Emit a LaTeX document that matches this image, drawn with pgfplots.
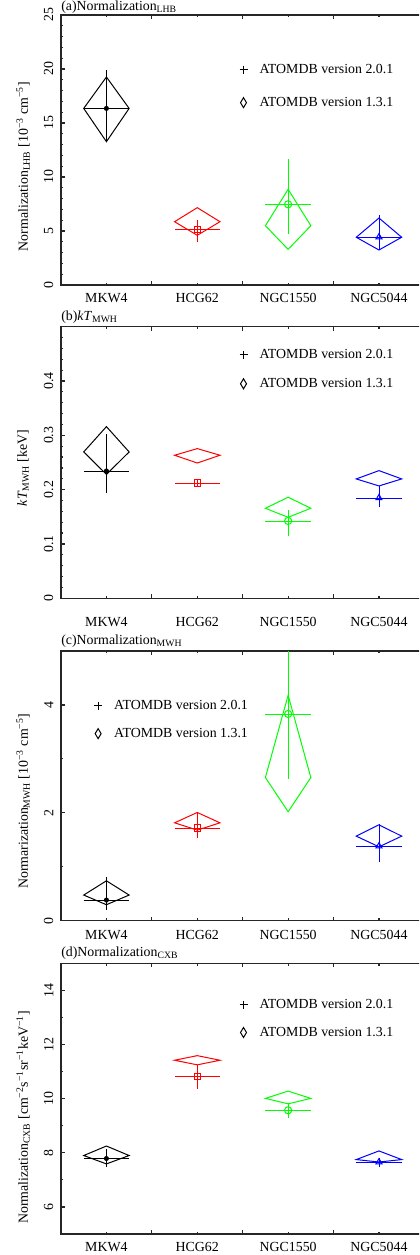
\documentclass[border=0pt]{standalone}
\usepackage{pgfplots}
\pgfplotsset{compat=1.18}
\usepackage{fontspec}
\setmainfont{Liberation Serif}

\newcommand\labfont{\fontsize{10.4}{12}\selectfont}

\pgfplotsset{
  panel/.style={
    scale only axis, width=272.55pt, anchor=north west,
    xmin=0.5, xmax=4.5,
    xtick={1.5,2.5,3.5}, xticklabels={},
    minor xtick={1,2,3,4},
    extra x ticks={1,2,3,4},
    extra x tick labels={MKW4,HCG62,NGC1550,NGC5044},
    extra x tick style={major tick length=0pt},
    xticklabel style={yshift=-2.4pt},
    yticklabel style={rotate=90, anchor=south, inner ysep=5.6pt},
    /pgf/number format/assume math mode=true,
    tick label style={font=\labfont},
    label style={font=\labfont},
    every axis title/.style={font=\labfont, at={(0,1)}, anchor=base west,
      yshift=5pt, inner sep=0pt},
    major tick length=3pt, minor tick length=1.75pt,
    axis line style={line width=0.9pt, black!85},
    every tick/.style={line width=0.9pt, black!85},
    every axis plot/.append style={line width=0.75pt},
    legend cell align=left,
    legend image code/.code={\draw[##1] plot coordinates {(0pt,0pt)};},
    legend style={draw=none, fill=none, inner sep=0pt, outer sep=0pt,
      column sep=9pt, nodes={inner sep=0pt}, font=\labfont,
      anchor=north west, xshift=-2.4pt, yshift=3.75pt},
  },
  v2/.style={error bars/.cd, x dir=both, x fixed=0.25,
    y dir=both, y explicit, error mark=none},
  v1/.style={no markers, line join=miter},
}

\newcommand\legendpair{%
  \addlegendimage{only marks, mark=+, mark size=3pt, black, line width=0.75pt}
  \addlegendentry{ATOMDB version 2.0.1}
  \addlegendimage{only marks, mark=diamond, mark size=3.75pt, black, line width=0.75pt, mark options={xscale=0.8}}
  \addlegendentry{ATOMDB version 1.3.1}}

\begin{document}
\begin{tikzpicture}
\useasboundingbox (0,0) rectangle (314.25pt,-941.25pt);
\clip (0,0) rectangle (314.25pt,-941.25pt);

% (a) LHB normalization
\begin{axis}[panel, at={(45.75pt,-11.25pt)}, height=202.5pt,
  ymin=0, ymax=25, ytick={0,5,...,25}, minor y tick num=4,
  title={(a)Normalization\textsubscript{LHB}},
  title style={yshift=-1.9pt},
  ylabel={Normalization\textsubscript{LHB} [10\textsuperscript{−3} cm\textsuperscript{−5}]},
  ylabel style={at={(axis description cs:-0.104,0.439)}, anchor=center},
  legend style={at={(axis cs:2.5,20)}, row sep=16.4pt}]
\legendpair
\addplot[black, mark=*, mark size=1.5pt, v2] coordinates {(1,16.35) += (0,3.55) -= (0,3.08)};
\addplot[black, v1] coordinates {(0.75,16.35) (1,19.26) (1.25,16.35) (1,13.27)} --cycle;
\addplot[red, mark=square, mark size=2.4pt, v2] coordinates {(2,5.15) += (0,0.87) -= (0,1.20)};
\addplot[red, v1] coordinates {(1.75,5.86) (2,7.16) (2.25,5.86) (2,4.6)} --cycle;
\addplot[green, mark=o, mark size=2.7pt, v2] coordinates {(3,7.47) += (0,4.16) -= (0,2.75)};
\addplot[green, v1] coordinates {(2.75,5.49) (3,8.86) (3.25,5.49) (3,3.30)} --cycle;
\addplot[blue, mark=triangle, mark size=2.6pt, v2] coordinates {(4,4.44) += (0,2.04) -= (0,1.20)};
\addplot[blue, v1] coordinates {(3.75,4.42) (4,6.20) (4.25,4.42) (4,3.24)} --cycle;
\end{axis}

% (b) MWH temperature
\begin{axis}[panel, at={(45.75pt,-245pt)}, height=203.7pt,
  ymin=0, ymax=0.5, ytick={0,0.1,0.2,0.3,0.4},
  minor ytick={0.02,0.04,...,0.49},
  extra x tick style={major tick length=0pt, xticklabel style={yshift=-8.5pt}},
  title={(b)\textit{kT}\textsubscript{MWH}},
  ylabel={\textit{kT}\textsubscript{MWH} [keV]},
  ylabel style={at={(axis description cs:-0.104,0.479)}, anchor=center},
  legend style={at={(axis cs:2.5,0.449)}, row sep=13.2pt}]
\legendpair
\addplot[black, mark=*, mark size=1.5pt, v2] coordinates {(1,0.2344) += (0,0.0676) -= (0,0.041)};
\addplot[black, v1] coordinates {(0.75,0.2694) (1,0.316) (1.25,0.2694) (1,0.228)} --cycle;
\addplot[red, mark=square, mark size=2.4pt, v2] coordinates {(2,0.2123) += (0,0.0074) -= (0,0.0073)};
\addplot[red, v1] coordinates {(1.75,0.2633) (2,0.2755) (2.25,0.2633) (2,0.249)} --cycle;
\addplot[green, mark=o, mark size=2.7pt, v2] coordinates {(3,0.1424) += (0,0.0203) -= (0,0.0271)};
\addplot[green, v1] coordinates {(2.75,0.1657) (3,0.186) (3.25,0.1657) (3,0.149)} --cycle;
\addplot[blue, mark=triangle, mark size=2.6pt, v2] coordinates {(4,0.1847) += (0,0.0221) -= (0,0.016)};
\addplot[blue, v1] coordinates {(3.75,0.2197) (4,0.235) (4.25,0.2197) (4,0.2068)} --cycle;
\end{axis}

% (c) MWH normalization
\begin{axis}[panel, at={(45.75pt,-488.25pt)}, height=202.3pt,
  ymin=0, ymax=5, ytick={0,2,4}, minor ytick={1,3,5},
  extra x tick style={major tick length=0pt, xticklabel style={yshift=-1.5pt}},
  title={(c)Normalization\textsubscript{MWH}},
  ylabel={Normarization\textsubscript{MWH} [10\textsuperscript{−3} cm\textsuperscript{−5}]},
  ylabel style={at={(axis description cs:-0.104,0.443)}, anchor=center},
  legend style={at={(axis cs:0.9,4.0)}, row sep=12.65pt}]
\legendpair
\addplot[black, mark=*, mark size=1.5pt, v2] coordinates {(1,0.383) += (0,0.432) -= (0,0.185)};
\addplot[black, v1] coordinates {(0.75,0.476) (1,0.74) (1.25,0.476) (1,0.297)} --cycle;
\addplot[red, mark=square, mark size=2.4pt, v2] coordinates {(2,1.72) += (0,0.27) -= (0,0.195)};
\addplot[red, v1] coordinates {(1.75,1.815) (2,2.007) (2.25,1.815) (2,1.68)} --cycle;
\addplot[green, mark=o, mark size=2.7pt, v2] coordinates {(3,3.833) += (0,1.4) -= (0,1.213)};
\addplot[green, v1] coordinates {(2.75,2.655) (3,4.18) (3.25,2.655) (3,2.02)} --cycle;
\addplot[blue, mark=triangle, mark size=2.6pt, v2] coordinates {(4,1.383) += (0,0.417) -= (0,0.293)};
\addplot[blue, v1] coordinates {(3.75,1.568) (4,1.778) (4.25,1.568) (4,1.37)} --cycle;
\end{axis}

% (d) CXB normalization
\begin{axis}[panel, at={(45.75pt,-722.5pt)}, height=203pt,
  ymin=5, ymax=15, ytick={6,8,...,14}, minor ytick={5,7,...,15},
  title={(d)Normalization\textsubscript{CXB}},
  ylabel={Normalization\textsubscript{CXB} [cm\textsuperscript{−2}s\textsuperscript{−1}sr\textsuperscript{−1}keV\textsuperscript{−1}]},
  ylabel style={at={(axis description cs:-0.104,0.431)}, anchor=center},
  legend style={at={(axis cs:2.5,13.49)}, row sep=12.35pt}]
\legendpair
\addplot[black, mark=*, mark size=1.5pt, v2] coordinates {(1,7.79) += (0,0.36) -= (0,0.32)};
\addplot[black, v1] coordinates {(0.75,7.90) (1,8.25) (1.25,7.90) (1,7.59)} --cycle;
\addplot[red, mark=square, mark size=2.4pt, v2] coordinates {(2,10.815) += (0,0.435) -= (0,0.445)};
\addplot[red, v1] coordinates {(1.75,11.42) (2,11.59) (2.25,11.42) (2,11.25)} --cycle;
\addplot[green, mark=o, mark size=2.7pt, v2] coordinates {(3,9.57) += (0,0.27) -= (0,0.30)};
\addplot[green, v1] coordinates {(2.75,10.01) (3,10.28) (3.25,10.01) (3,9.81)} --cycle;
\addplot[blue, mark=triangle, mark size=2.6pt, v2] coordinates {(4,7.66) += (0,0.14) -= (0,0.17)};
\addplot[blue, v1] coordinates {(3.75,7.75) (4,8.07) (4.25,7.75) (4,7.66)} --cycle;
\end{axis}
\end{tikzpicture}
\end{document}
